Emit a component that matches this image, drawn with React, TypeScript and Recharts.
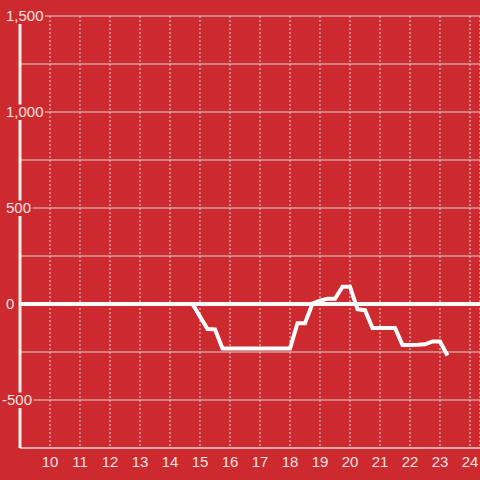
import React from 'react';
import { LineChart, Line, XAxis, YAxis, CartesianGrid, ReferenceLine } from 'recharts';

const hours = [9, 10, 11, 12, 13, 14, 14.75, 15.25, 15.5, 15.75, 18, 18.25, 18.5, 18.75, 19, 19.25, 19.5, 19.75, 20, 20.25, 20.5, 20.75, 21.5, 21.75, 22, 22.25, 22.5, 22.75, 23, 23.25];
const values = [0, 0, 0, 0, 0, 0, 0, -130, -132, -232, -232, -100, -100, 3, 18, 27, 27, 90, 90, -27, -32, -125, -125, -213, -213, -212, -210, -195, -195, -268];
const xTicks = [10, 11, 12, 13, 14, 15, 16, 17, 18, 19, 20, 21, 22, 23, 24];
const yTicks = [-750, -500, -250, 0, 250, 500, 750, 1000, 1250, 1500];

const data = hours.map((h, i) => ({ x: h, y: values[i] }));

const BG = '#cc2a2f';
const TEXT = '#f0e2e2';
const GRID = '#d6d6d6';
const FONT = '"Liberation Sans", Arial, sans-serif';

const fmt = (v: number) => {
  const a = Math.abs(v);
  const s = a >= 1000 ? `${Math.floor(a / 1000)},${String(a % 1000).padStart(3, '0')}` : String(a);
  return v < 0 ? `-${s}` : s;
};

const textWidth = (s: string) => {
  let w = 0;
  for (const c of s) {
    if (c === ',') w += 4.17;
    else if (c === '-') w += 5.0;
    else w += 8.34;
  }
  return w;
};

const YTick = (props: any) => {
  const { y, payload } = props;
  const v = payload.value as number;
  if (v % 500 !== 0) return <g />;
  const label = fmt(v);
  const x0 = v < 0 ? 2 : 6;
  const w = textWidth(label);
  return (
    <g>
      <rect x={x0 - 1} y={y - 7.5} width={w + 2.5} height={15.5} fill={BG} />
      <text x={x0} y={y} dy="0.36em" textAnchor="start" fill={TEXT} fontSize={15} fontFamily={FONT}>
        {label}
      </text>
    </g>
  );
};

export default function App() {
  return (
    <div style={{ position: 'absolute', left: 0, top: 0, width: 480, height: 480, background: BG }}>
      <LineChart width={480} height={480} data={data} margin={{ top: 16, right: 0, bottom: 0, left: 0 }}>
        <CartesianGrid vertical={false} stroke={GRID} strokeWidth={1} />
        <CartesianGrid horizontal={false} stroke={GRID} strokeWidth={1} strokeDasharray="2 2" />
        <ReferenceLine y={0} stroke="#ffffff" strokeWidth={4} />
        <Line
          type="linear"
          dataKey="y"
          stroke="#ffffff"
          strokeWidth={4}
          dot={false}
          activeDot={false}
          isAnimationActive={false}
        />
        <XAxis
          dataKey="x"
          type="number"
          domain={[9, 24.3334]}
          ticks={xTicks}
          allowDataOverflow
          height={32}
          axisLine={{ stroke: GRID, strokeWidth: 1 }}
          tickLine={false}
          tick={{ fill: TEXT, fontSize: 15, fontFamily: FONT }}
          interval={0}
        />
        <YAxis
          type="number"
          domain={[-750, 1500]}
          ticks={yTicks}
          width={20}
          allowDataOverflow
          axisLine={{ stroke: '#f0f0f0', strokeWidth: 3 }}
          tickLine={false}
          tick={YTick}
          interval={0}
        />
      </LineChart>
    </div>
  );
}
